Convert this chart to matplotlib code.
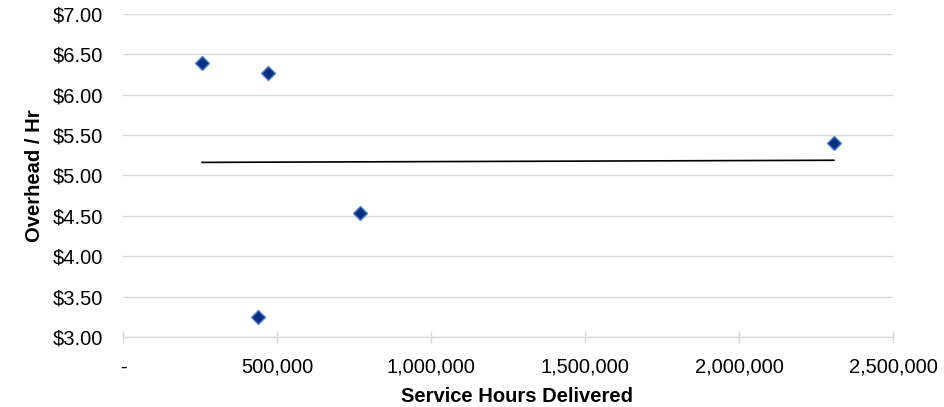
"""Overhead per hour vs. service hours delivered."""

import matplotlib.pyplot as plt
import numpy as np
from matplotlib.ticker import FuncFormatter

plt.rcParams["font.family"] = ["Liberation Sans", "DejaVu Sans"]

service_hours = [256500, 470800, 769500, 438000, 2308000]
overhead_per_hr = [6.39, 6.27, 4.54, 3.25, 5.40]

y_ticks = [3.0, 3.5, 4.0, 4.5, 5.0, 5.5, 6.0, 6.5, 7.0]
x_ticks = [0, 500000, 1000000, 1500000, 2000000, 2500000]

fig = plt.figure(figsize=(9.45, 4.07), dpi=100)
ax = fig.add_axes([0.1302, 0.172, 0.8148, 0.7936])

grid_color = "#d9d9d9"

# linear trendline across the data range
slope, intercept = np.polyfit(service_hours, overhead_per_hr, 1)
trend_x = np.array([min(service_hours), max(service_hours)])
ax.plot(trend_x, slope * trend_x + intercept, color="black", lw=1.2, zorder=2)

ax.plot(service_hours, overhead_per_hr, linestyle="none", marker="D",
        markersize=7.2, markerfacecolor="#0b2f80", markeredgecolor="#4f7fc4",
        markeredgewidth=1.0, zorder=3)

ax.set_xlim(0, 2500000)
ax.set_ylim(3.0, 7.0)
ax.set_xticks(x_ticks)
ax.set_yticks(y_ticks)
ax.xaxis.set_major_formatter(
    FuncFormatter(lambda v, _: "-" if v == 0 else f"{v:,.0f}"))
ax.yaxis.set_major_formatter(FuncFormatter(lambda v, _: f"${v:.2f}"))

ax.yaxis.grid(True, color=grid_color, lw=1.0)
ax.set_axisbelow(True)
for side in ("top", "right", "left"):
    ax.spines[side].set_visible(False)
ax.spines["bottom"].set_color(grid_color)
ax.spines["bottom"].set_linewidth(1.0)

ax.tick_params(axis="x", direction="inout", length=8, width=1.0,
               color=grid_color, labelsize=14.5, pad=11)
ax.tick_params(axis="y", length=0, labelsize=14.5, pad=14.5)

ax.set_xlabel("Service Hours Delivered", fontsize=14.5, fontweight="bold",
              labelpad=9)
ax.xaxis.set_label_coords(0.511, -0.155)
ax.set_ylabel("Overhead / Hr", fontsize=14.5, fontweight="bold", labelpad=6)

fig.savefig("out.png", dpi=100)
plt.close(fig)
